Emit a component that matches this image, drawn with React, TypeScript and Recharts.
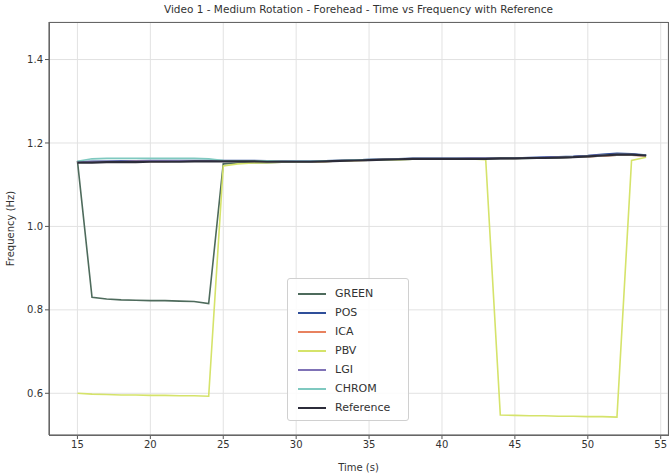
import React from 'react';
import { LineChart, Line, XAxis, YAxis, CartesianGrid } from 'recharts';

const times = [15,16,17,18,19,20,21,22,23,24,25,26,27,28,29,30,31,32,33,34,35,36,37,38,39,40,41,42,43,44,45,46,47,48,49,50,51,52,53,54];

const greenVals = [
  1.157,0.830,0.826,0.824,0.823,0.822,0.822,0.821,0.820,0.815,
  1.150,1.152,1.153,1.153,1.154,1.154,1.155,1.156,1.157,1.158,
  1.159,1.160,1.160,1.161,1.161,1.161,1.162,1.162,1.162,1.163,
  1.163,1.163,1.164,1.165,1.166,1.167,1.169,1.171,1.171,1.170];
const posVals = [
  1.155,1.156,1.156,1.157,1.157,1.158,1.158,1.158,1.158,1.158,
  1.158,1.158,1.158,1.157,1.157,1.156,1.156,1.157,1.158,1.159,
  1.160,1.161,1.162,1.163,1.163,1.163,1.163,1.163,1.163,1.164,
  1.164,1.165,1.166,1.167,1.168,1.170,1.173,1.175,1.174,1.171];
const icaVals = [
  1.154,1.155,1.155,1.155,1.156,1.156,1.156,1.157,1.157,1.157,
  1.157,1.157,1.156,1.156,1.156,1.155,1.155,1.156,1.157,1.158,
  1.159,1.160,1.161,1.161,1.161,1.162,1.162,1.162,1.162,1.163,
  1.163,1.164,1.164,1.165,1.166,1.167,1.169,1.171,1.171,1.169];
const pbvVals = [
  0.600,0.598,0.597,0.596,0.596,0.595,0.595,0.594,0.594,0.593,
  1.145,1.150,1.152,1.153,1.154,1.154,1.155,1.156,1.157,1.158,
  1.159,1.160,1.160,1.161,1.161,1.161,1.162,1.162,1.160,0.548,
  0.547,0.546,0.546,0.545,0.545,0.544,0.544,0.543,1.158,1.166];
const lgiVals = [
  1.155,1.155,1.156,1.156,1.156,1.157,1.157,1.157,1.157,1.157,
  1.157,1.157,1.157,1.156,1.156,1.156,1.156,1.157,1.158,1.159,
  1.160,1.161,1.162,1.162,1.162,1.162,1.162,1.163,1.163,1.163,
  1.164,1.164,1.165,1.166,1.167,1.169,1.171,1.173,1.173,1.170];
const chromVals = [
  1.156,1.162,1.163,1.163,1.163,1.163,1.163,1.163,1.163,1.162,
  1.158,1.157,1.157,1.157,1.156,1.156,1.156,1.157,1.158,1.159,
  1.160,1.160,1.161,1.162,1.162,1.162,1.162,1.162,1.162,1.163,
  1.163,1.164,1.164,1.165,1.166,1.168,1.170,1.172,1.172,1.170];
const refVals = [
  1.153,1.153,1.154,1.154,1.154,1.155,1.155,1.155,1.156,1.156,
  1.156,1.156,1.156,1.155,1.155,1.155,1.155,1.156,1.157,1.158,
  1.159,1.160,1.161,1.162,1.162,1.162,1.162,1.162,1.162,1.163,
  1.163,1.164,1.164,1.165,1.166,1.168,1.170,1.172,1.172,1.170];

const xTicks = [15,20,25,30,35,40,45,50,55];
const yTicks = [0.6,0.8,1.0,1.2,1.4];

const series = [
  { key: 'GREEN', values: greenVals, color: '#4e6b5c', width: 1.6 },
  { key: 'POS', values: posVals, color: '#2f4f9a', width: 1.6 },
  { key: 'ICA', values: icaVals, color: '#e8825f', width: 1.6 },
  { key: 'PBV', values: pbvVals, color: '#d5e36a', width: 1.6 },
  { key: 'LGI', values: lgiVals, color: '#7f72b6', width: 1.6 },
  { key: 'CHROM', values: chromVals, color: '#7fc9c0', width: 1.6 },
  { key: 'Reference', values: refVals, color: '#2c2c3a', width: 2.2 },
];

const data = times.map((t, i) => {
  const row: Record<string, number> = { t };
  series.forEach(s => { row[s.key] = s.values[i]; });
  return row;
});

const font = '"DejaVu Sans", sans-serif';

const LegendBox = () => (
  <div style={{
    position: 'absolute', left: 287, top: 278, width: 122, boxSizing: 'border-box',
    background: 'rgba(255,255,255,0.85)', border: '1px solid #d0d0d0', borderRadius: 3,
    padding: '5px 8px 3px 10px', fontFamily: font, fontSize: 11, color: '#333',
  }}>
    {series.map(s => (
      <div key={s.key} style={{ display: 'flex', alignItems: 'center', height: 19 }}>
        <div style={{ width: 28, height: 0, borderTop: `2px solid ${s.color}`, marginRight: 9 }} />
        <span>{s.key}</span>
      </div>
    ))}
  </div>
);

export default function App() {
  return (
    <div style={{ position: 'absolute', left: 0, top: 0, width: 671, height: 475, background: '#fff' }}>
      <div style={{ position: 'absolute', left: 49, width: 619, top: 3, textAlign: 'center', fontFamily: font, fontSize: 10.5, color: '#333' }}>
        Video 1 - Medium Rotation - Forehead - Time vs Frequency with Reference
      </div>
      <LineChart width={671} height={475} data={data} margin={{ top: 22, right: 3, bottom: 0, left: 0 }}>
        <CartesianGrid stroke="#e2e2e2" strokeWidth={1} />
        <XAxis
          dataKey="t" type="number" domain={[13.05, 55.5]} ticks={xTicks} allowDataOverflow
          height={40} stroke="#555" tickSize={4}
          tick={{ fontFamily: font, fontSize: 10, fill: '#333' }}
          label={{ value: 'Time (s)', position: 'insideBottom', offset: 4, style: { fontFamily: font, fontSize: 10, fill: '#333' } }}
        />
        <YAxis
          type="number" domain={[0.5, 1.49]} ticks={yTicks} allowDataOverflow width={49}
          stroke="#555" tickSize={4} tickFormatter={(v: number) => v.toFixed(1)}
          tick={{ fontFamily: font, fontSize: 10, fill: '#333' }}
          label={{ value: 'Frequency (Hz)', angle: -90, position: 'insideLeft', offset: 10, style: { textAnchor: 'middle', fontFamily: font, fontSize: 10, fill: '#333' } }}
        />
        {series.map(s => (
          <Line key={s.key} dataKey={s.key} stroke={s.color} strokeWidth={s.width} dot={false} isAnimationActive={false} type="linear" />
        ))}
      </LineChart>
      <div style={{ position: 'absolute', left: 49, top: 22, width: 618, height: 412, border: '1px solid #666', pointerEvents: 'none' }} />
      <LegendBox />
    </div>
  );
}
